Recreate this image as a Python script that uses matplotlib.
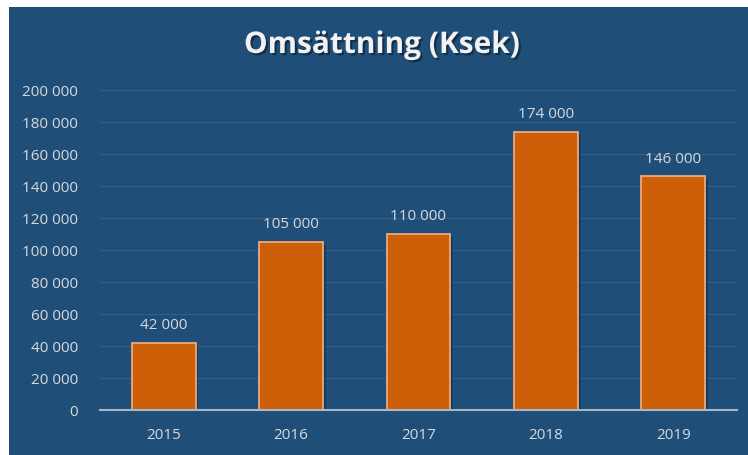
import matplotlib.pyplot as plt
import matplotlib.patheffects as pe

years = ['2015', '2016', '2017', '2018', '2019']
revenue = [42000, 105000, 110000, 174000, 146000]
yticks = [0, 20000, 40000, 60000, 80000, 100000, 120000, 140000, 160000, 180000, 200000]

bg = '#1F4E79'
txt = '#D9D9D9'

plt.rcParams['font.family'] = ['Open Sans', 'DejaVu Sans']

fig = plt.figure(figsize=(7.48, 4.55), dpi=100)
fig.patch.set_facecolor('white')
# blue chart area with white margin at top/left
fig.patches.append(plt.Rectangle((9 / 748, 0), 1, 1 - 7 / 455, transform=fig.transFigure,
                                 facecolor=bg, edgecolor='none', zorder=-5))

ax = fig.add_axes([100 / 748, 1 - 410 / 455, 637 / 748, 320 / 455])
ax.set_facecolor('none')

def fmt(v):
    return f'{v:,}'.replace(',', ' ')

x = range(len(years))
bars = ax.bar(x, revenue, width=0.5, color='#CC5F08', edgecolor='#F4B183', linewidth=1.2, zorder=3,
              path_effects=[pe.SimplePatchShadow(offset=(2, -2), shadow_rgbFace='#10304F', alpha=0.6), pe.Normal()])

for i, v in enumerate(revenue):
    ax.text(i, v + 6000, fmt(v), ha='center', va='bottom', color=txt, fontsize=11)

ax.set_xlim(-0.5, len(years) - 0.5)
ax.set_ylim(0, 200000)
ax.set_yticks(yticks)
ax.set_yticklabels([fmt(v) for v in yticks])
ax.set_xticks(list(x))
ax.set_xticklabels(years)
ax.tick_params(axis='both', length=0, colors=txt, labelsize=11)
ax.tick_params(axis='y', pad=16)
ax.tick_params(axis='x', pad=13)

ax.grid(axis='y', color='#336089', linewidth=0.8, zorder=0)
for s in ['top', 'right', 'left']:
    ax.spines[s].set_visible(False)
ax.spines['bottom'].set_color('#A9B8C8')
ax.spines['bottom'].set_linewidth(1.5)
ax.spines['bottom'].set_zorder(4)

fig.text(382 / 748, 1 - 45 / 455, 'Omsättning (Ksek)', ha='center', va='center', color='#F2F2F2',
         fontsize=21.5, fontweight='bold',
         path_effects=[pe.withSimplePatchShadow(offset=(1.5, -1.5), shadow_rgbFace='black', alpha=0.4)])

fig.savefig('out.png', dpi=100, facecolor=fig.get_facecolor())
